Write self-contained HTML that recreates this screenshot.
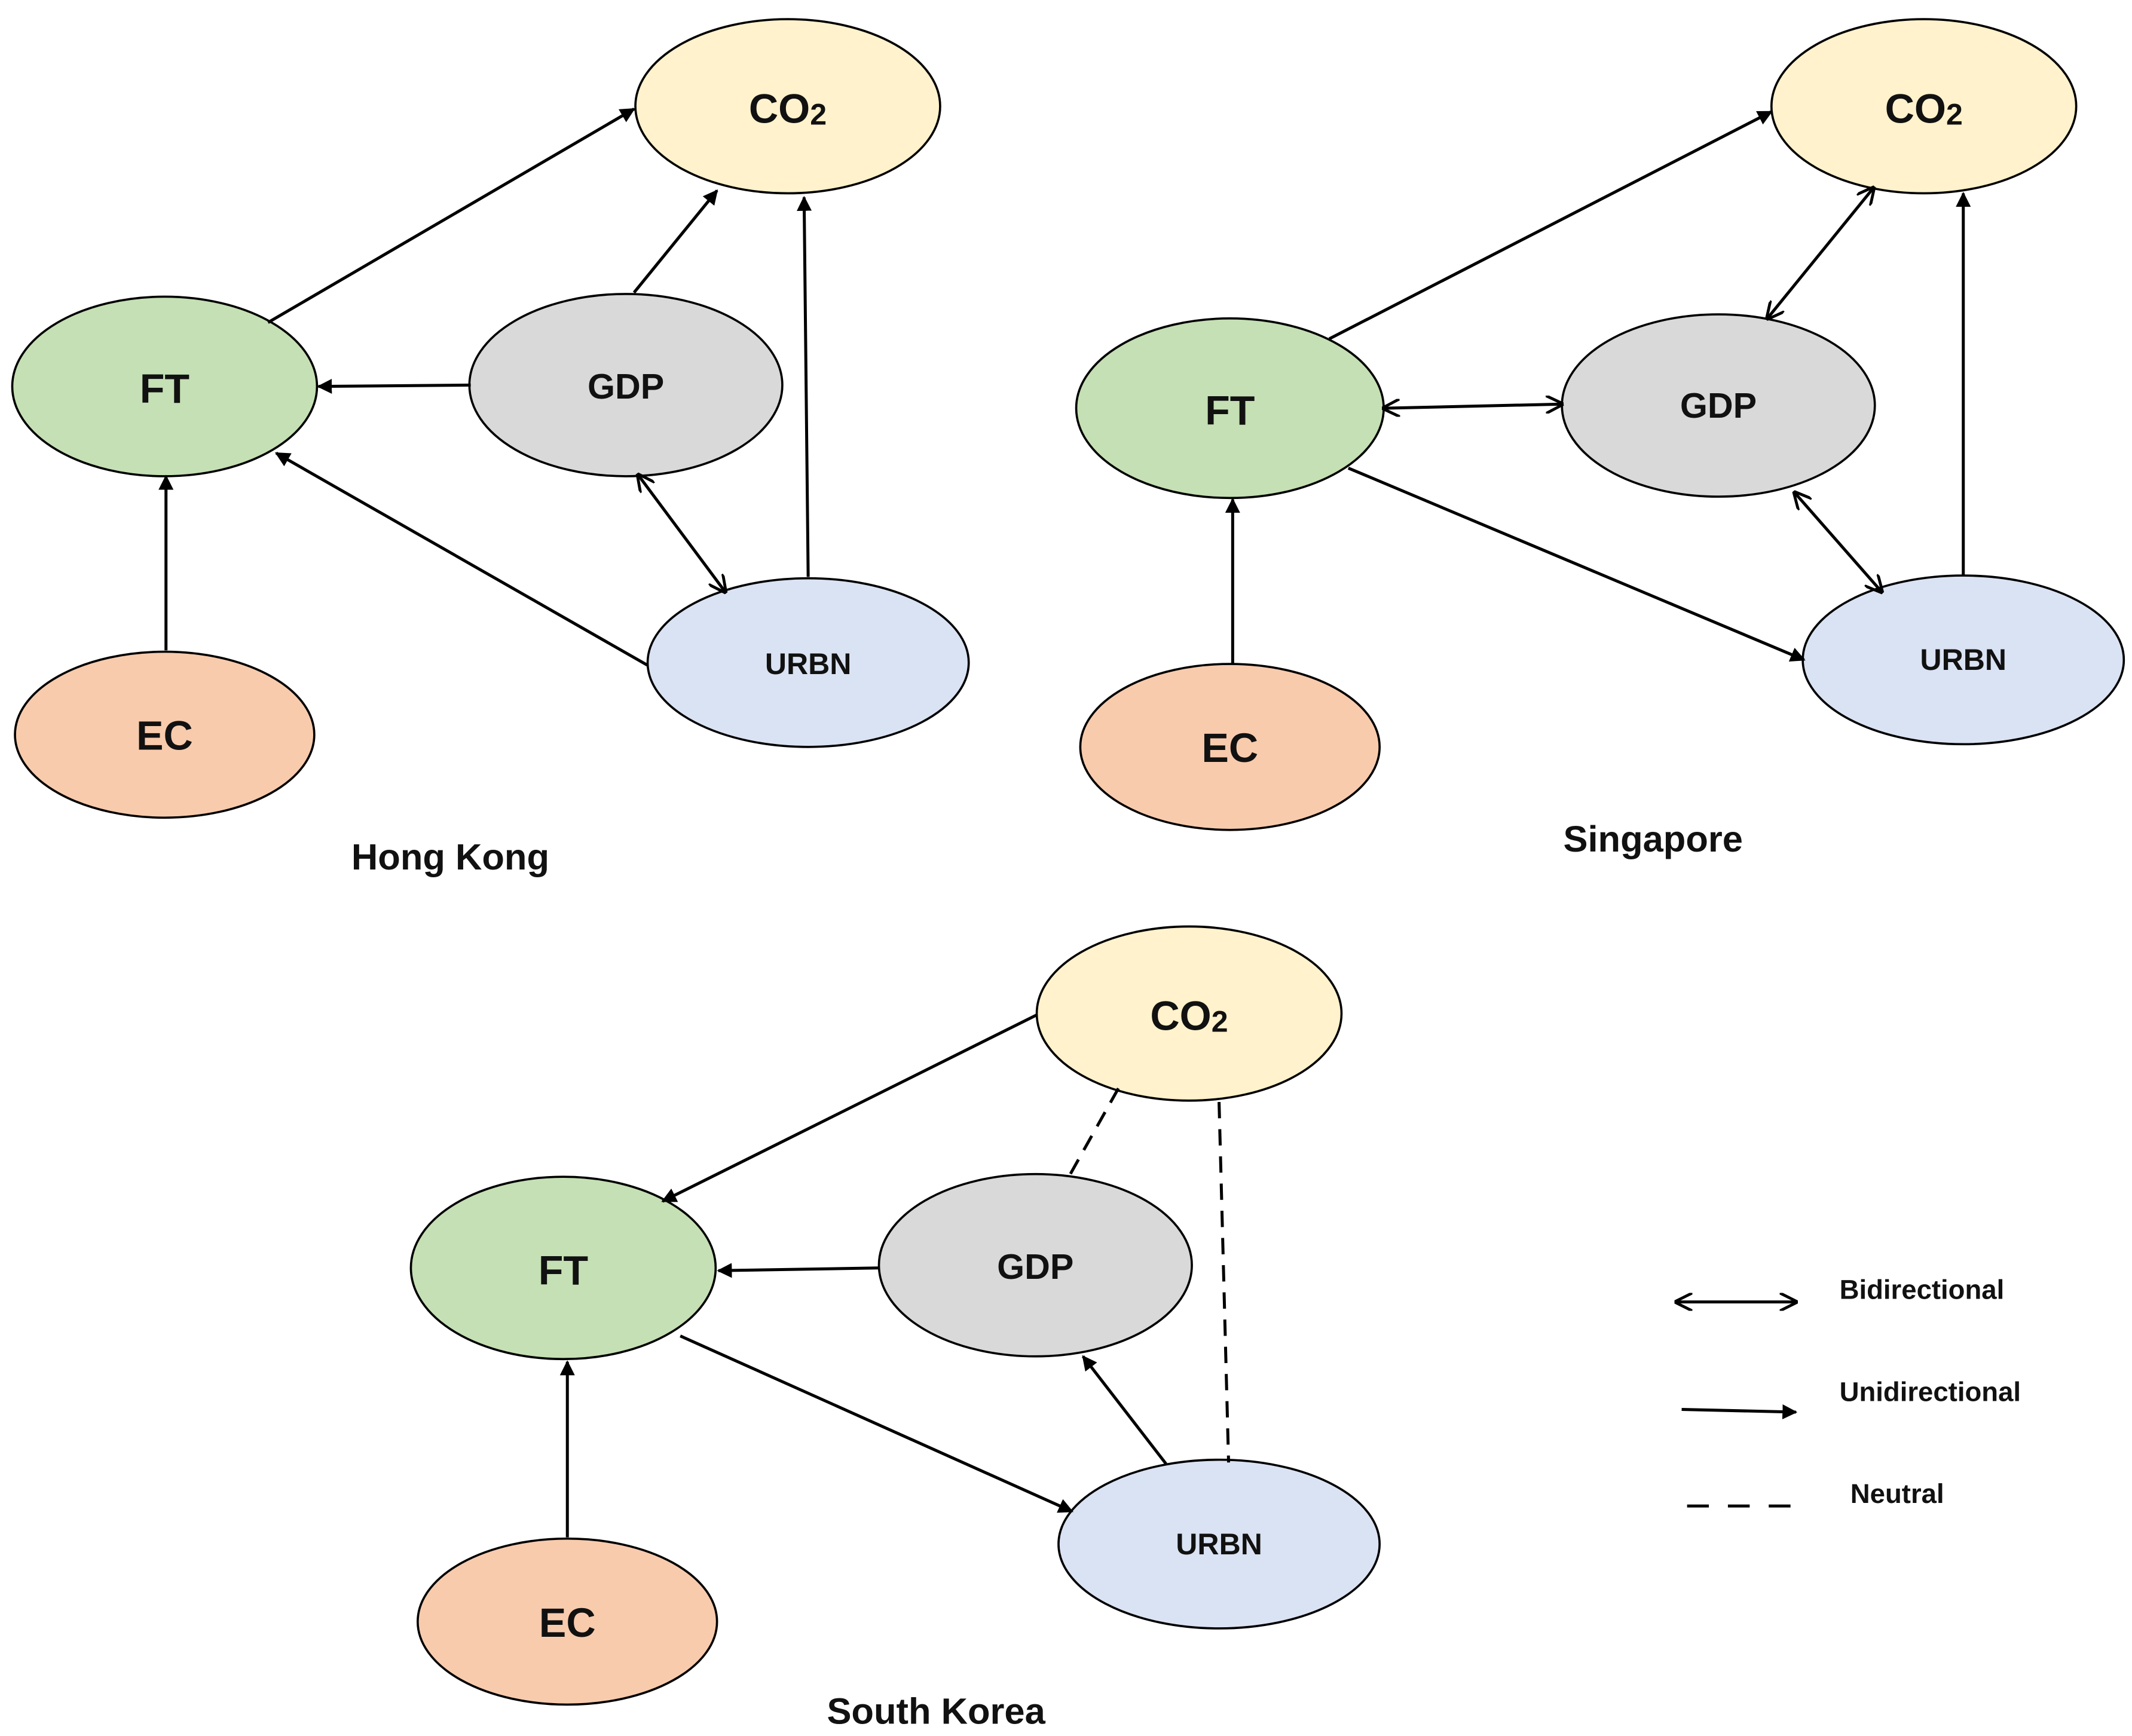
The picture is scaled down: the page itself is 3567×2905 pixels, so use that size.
<!DOCTYPE html>
<html><head><meta charset="utf-8"><style>html,body{margin:0;padding:0;background:#fff}svg{display:block}text{font-family:"Liberation Sans",sans-serif;font-weight:bold;fill:#111;text-anchor:middle;dominant-baseline:central}</style></head>
<body>
<svg width="3567" height="2905" viewBox="0 0 1567 1276" xmlns="http://www.w3.org/2000/svg">
<defs>
<marker id="a" viewBox="0 0 10 10" refX="9" refY="5" markerWidth="5" markerHeight="5" orient="auto-start-reverse"><path d="M0,0 L10,5 L0,10 z" fill="#000"/></marker>
<marker id="o" viewBox="0 0 10 10" refX="9" refY="5" markerWidth="6" markerHeight="6" orient="auto-start-reverse"><path d="M0,0 L10,5 L0,10" fill="none" stroke="#000" stroke-width="1.6"/></marker>
</defs>
<g stroke="#000" stroke-width="1.6">
<!-- Hong Kong -->
<ellipse cx="579" cy="78" rx="112" ry="64" fill="#fff2cc"/>
<ellipse cx="121" cy="284" rx="112" ry="66" fill="#c5e0b4"/>
<ellipse cx="460" cy="283" rx="115" ry="67" fill="#d9d9d9"/>
<ellipse cx="594" cy="487" rx="118" ry="62" fill="#dae3f3"/>
<ellipse cx="121" cy="540" rx="110" ry="61" fill="#f8cbad"/>
<!-- Singapore -->
<ellipse cx="1414" cy="78" rx="112" ry="64" fill="#fff2cc"/>
<ellipse cx="904" cy="300" rx="113" ry="66" fill="#c5e0b4"/>
<ellipse cx="1263" cy="298" rx="115" ry="67" fill="#d9d9d9"/>
<ellipse cx="1443" cy="485" rx="118" ry="62" fill="#dae3f3"/>
<ellipse cx="904" cy="549" rx="110" ry="61" fill="#f8cbad"/>
<!-- South Korea -->
<ellipse cx="874" cy="745" rx="112" ry="64" fill="#fff2cc"/>
<ellipse cx="414" cy="932" rx="112" ry="67" fill="#c5e0b4"/>
<ellipse cx="761" cy="930" rx="115" ry="67" fill="#d9d9d9"/>
<ellipse cx="896" cy="1135" rx="118" ry="62" fill="#dae3f3"/>
<ellipse cx="417" cy="1192" rx="110" ry="61" fill="#f8cbad"/>
</g>
<g stroke="#000" stroke-width="2.2" fill="none">
<line x1="197" y1="237" x2="466" y2="80" marker-end="url(#a)"/>
<line x1="466" y1="215" x2="527" y2="140" marker-end="url(#a)"/>
<line x1="594" y1="424" x2="591" y2="145" marker-end="url(#a)"/>
<line x1="346" y1="283" x2="234" y2="284" marker-end="url(#a)"/>
<line x1="476" y1="489" x2="203" y2="333" marker-end="url(#a)"/>
<line x1="122" y1="478" x2="122" y2="350" marker-end="url(#a)"/>
<line x1="469" y1="349" x2="533" y2="435" marker-start="url(#o)" marker-end="url(#o)"/>

<line x1="977" y1="249" x2="1302" y2="82" marker-end="url(#a)"/>
<line x1="1377" y1="138" x2="1299" y2="234" marker-start="url(#o)" marker-end="url(#o)"/>
<line x1="1443" y1="423" x2="1443" y2="142" marker-end="url(#a)"/>
<line x1="1017" y1="300" x2="1148" y2="297" marker-start="url(#o)" marker-end="url(#o)"/>
<line x1="991" y1="344" x2="1326" y2="485" marker-end="url(#a)"/>
<line x1="1319" y1="362" x2="1383" y2="435" marker-start="url(#o)" marker-end="url(#o)"/>
<line x1="906" y1="488" x2="906" y2="367" marker-end="url(#a)"/>

<line x1="762" y1="746" x2="487" y2="883" marker-end="url(#a)"/>
<line x1="822" y1="800" x2="785" y2="866" stroke-dasharray="12,8"/>
<line x1="896" y1="810" x2="903" y2="1075" stroke-dasharray="12,8"/>
<line x1="646" y1="932" x2="528" y2="934" marker-end="url(#a)"/>
<line x1="500" y1="982" x2="788" y2="1111" marker-end="url(#a)"/>
<line x1="857" y1="1076" x2="796" y2="997" marker-end="url(#a)"/>
<line x1="417" y1="1130" x2="417" y2="1001" marker-end="url(#a)"/>

<line x1="1232" y1="957" x2="1320" y2="957" marker-start="url(#o)" marker-end="url(#o)"/>
<line x1="1236" y1="1036" x2="1320" y2="1038" marker-end="url(#a)"/>
<line x1="1240" y1="1107" x2="1320" y2="1107" stroke-dasharray="16,14"/>
</g>
<g font-size="30">
<text x="579" y="80">CO<tspan font-size="22" dy="4">2</tspan></text>
<text x="121" y="286">FT</text>
<text x="460" y="284" font-size="26">GDP</text>
<text x="594" y="488" font-size="22">URBN</text>
<text x="121" y="541">EC</text>
<text x="331" y="630" font-size="27">Hong Kong</text>

<text x="1414" y="80">CO<tspan font-size="22" dy="4">2</tspan></text>
<text x="904" y="302">FT</text>
<text x="1263" y="298" font-size="26">GDP</text>
<text x="1443" y="485" font-size="22">URBN</text>
<text x="904" y="550">EC</text>
<text x="1215" y="617" font-size="27">Singapore</text>

<text x="874" y="747">CO<tspan font-size="22" dy="4">2</tspan></text>
<text x="414" y="934">FT</text>
<text x="761" y="931" font-size="26">GDP</text>
<text x="896" y="1135" font-size="22">URBN</text>
<text x="417" y="1193">EC</text>
<text x="688" y="1258" font-size="27">South Korea</text>

<g font-size="20" style="text-anchor:start">
<text x="1352" y="948" style="text-anchor:start">Bidirectional</text>
<text x="1352" y="1023" style="text-anchor:start">Unidirectional</text>
<text x="1360" y="1098" style="text-anchor:start">Neutral</text>
</g>
</g>
</svg>
</body></html>
